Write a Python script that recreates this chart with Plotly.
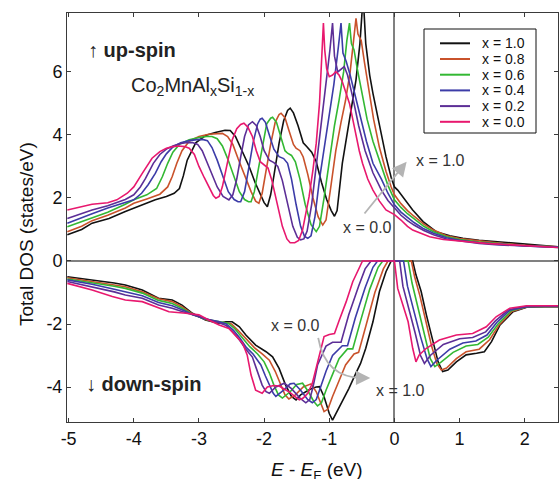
import plotly.graph_objects as go

# ---------------- data ----------------
series_labels = ["x = 1.0", "x = 0.8", "x = 0.6", "x = 0.4", "x = 0.2", "x = 0.0"]
series_colors = ["#111111", "#c9522b", "#33b833", "#3c3ca8", "#5c2e96", "#e8186e"]

# ---- up-spin ----
up_E_10 = [-5.02,-4.8,-4.64,-4.38,-4.13,-3.92,-3.67,-3.5,-3.38,-3.3,-3.24,-3.18,-3.05,-2.9,-2.75,-2.6,-2.52,-2.44,-2.33,-2.23,-2.14,-2.08,-2.0,-1.95,-1.9,-1.85,-1.77,-1.7,-1.64,-1.6,-1.55,-1.48,-1.4,-1.34,-1.27,-1.2,-1.12,-1.04,-0.97,-0.92,-0.88,-0.8,-0.72,-0.65,-0.59,-0.53,-0.48,-0.44,-0.38,-0.33,-0.23,-0.13,-0.05,0.0,0.05,0.1,0.18,0.28,0.44,0.64,0.85,1.05,1.3,1.56,1.8,2.08,2.3,2.51]
up_D_10 = [0.83,1.0,1.2,1.35,1.57,1.75,1.94,2.05,2.15,2.3,2.7,3.2,3.75,3.98,4.08,4.15,4.14,3.95,3.45,3.0,2.5,2.2,1.85,1.72,2.1,2.7,3.74,4.45,4.78,4.85,4.7,4.3,3.75,3.62,3.45,3.15,2.5,1.95,1.6,1.42,1.6,3.1,4.1,4.95,5.75,6.9,8.4,6.9,5.9,5.32,4.26,3.31,2.65,2.35,2.25,2.12,1.9,1.62,1.25,0.93,0.8,0.72,0.66,0.61,0.57,0.53,0.49,0.45]

up_E_08 = [-5.02,-4.8,-4.64,-4.4,-4.13,-4.0,-3.8,-3.6,-3.48,-3.41,-3.34,-3.26,-3.15,-3.0,-2.85,-2.72,-2.64,-2.56,-2.48,-2.4,-2.3,-2.2,-2.13,-2.08,-2.03,-1.97,-1.9,-1.83,-1.77,-1.74,-1.68,-1.62,-1.55,-1.51,-1.45,-1.4,-1.33,-1.25,-1.17,-1.1,-1.05,-0.98,-0.9,-0.82,-0.75,-0.68,-0.63,-0.59,-0.56,-0.51,-0.46,-0.4,-0.32,-0.23,-0.13,-0.05,0.0,0.1,0.2,0.3,0.45,0.6,0.8,1.0,1.3,1.6,2.0,2.51]
up_D_08 = [0.93,1.1,1.28,1.45,1.68,1.83,1.97,2.12,2.35,2.68,3.1,3.5,3.8,3.95,4.02,4.05,4.05,3.95,3.7,3.25,2.7,2.2,1.9,1.83,2.15,2.9,3.7,4.4,4.65,4.69,4.55,4.15,3.7,3.58,3.5,3.3,2.75,2.0,1.4,1.14,1.3,2.3,3.5,4.4,5.1,6.0,7.0,7.7,7.2,7.0,6.3,5.5,4.5,3.6,2.85,2.35,2.1,1.82,1.6,1.42,1.17,0.98,0.8,0.71,0.63,0.57,0.5,0.45]

up_E_06 = [-5.02,-4.8,-4.64,-4.4,-4.13,-4.0,-3.8,-3.65,-3.56,-3.48,-3.4,-3.3,-3.15,-3.0,-2.88,-2.8,-2.72,-2.64,-2.56,-2.47,-2.38,-2.3,-2.24,-2.2,-2.15,-2.09,-2.02,-1.96,-1.9,-1.87,-1.81,-1.75,-1.68,-1.64,-1.58,-1.52,-1.45,-1.37,-1.28,-1.2,-1.15,-1.08,-1.0,-0.92,-0.85,-0.78,-0.73,-0.69,-0.66,-0.62,-0.57,-0.5,-0.42,-0.33,-0.2,-0.1,0.0,0.1,0.2,0.3,0.45,0.6,0.8,1.0,1.3,1.6,2.0,2.51]
up_D_06 = [1.09,1.25,1.38,1.55,1.8,1.94,2.1,2.3,2.68,3.1,3.45,3.7,3.85,3.92,3.95,3.95,3.88,3.65,3.25,2.7,2.2,1.95,1.88,1.88,2.2,2.9,3.75,4.35,4.53,4.56,4.4,4.0,3.5,3.42,3.35,3.15,2.6,1.8,1.15,0.93,1.1,2.0,3.2,4.3,5.1,6.0,7.0,7.55,6.9,6.7,6.1,5.3,4.5,3.8,3.0,2.4,1.94,1.7,1.5,1.33,1.1,0.93,0.77,0.68,0.6,0.55,0.49,0.44]

up_E_04 = [-5.02,-4.8,-4.64,-4.4,-4.13,-4.0,-3.88,-3.78,-3.67,-3.58,-3.5,-3.4,-3.28,-3.15,-3.03,-2.95,-2.87,-2.8,-2.72,-2.63,-2.55,-2.46,-2.4,-2.36,-2.3,-2.24,-2.17,-2.1,-2.06,-2.03,-1.98,-1.92,-1.85,-1.77,-1.7,-1.64,-1.58,-1.51,-1.44,-1.38,-1.33,-1.28,-1.22,-1.15,-1.08,-1.01,-0.93,-0.86,-0.82,-0.79,-0.74,-0.68,-0.6,-0.52,-0.43,-0.33,-0.2,-0.1,0.0,0.1,0.2,0.3,0.45,0.6,0.8,1.0,1.3,1.6,2.0,2.51]
up_D_04 = [1.2,1.38,1.5,1.68,1.86,1.94,2.15,2.42,2.78,3.15,3.4,3.62,3.75,3.82,3.85,3.86,3.82,3.6,3.2,2.65,2.2,1.95,1.88,1.88,2.2,2.9,3.75,4.35,4.5,4.53,4.4,4.0,3.55,3.31,3.25,3.1,2.6,1.8,1.1,0.78,0.72,0.8,1.4,2.6,3.6,4.5,5.6,6.8,7.55,6.6,6.33,5.9,5.2,4.5,3.8,3.1,2.6,2.15,1.78,1.55,1.38,1.22,1.02,0.88,0.74,0.66,0.58,0.53,0.48,0.44]

up_E_02 = [-5.02,-4.8,-4.64,-4.4,-4.13,-4.0,-3.9,-3.82,-3.77,-3.7,-3.6,-3.5,-3.4,-3.3,-3.2,-3.1,-3.02,-2.95,-2.87,-2.8,-2.72,-2.63,-2.54,-2.48,-2.42,-2.36,-2.3,-2.24,-2.18,-2.12,-2.06,-2.0,-1.92,-1.85,-1.79,-1.72,-1.64,-1.56,-1.49,-1.44,-1.39,-1.34,-1.27,-1.2,-1.13,-1.06,-0.99,-0.95,-0.92,-0.87,-0.82,-0.77,-0.72,-0.64,-0.55,-0.45,-0.33,-0.2,-0.1,0.0,0.1,0.2,0.3,0.45,0.6,0.8,1.0,1.3,1.6,2.0,2.51]
up_D_02 = [1.35,1.52,1.62,1.75,1.95,2.1,2.35,2.62,2.83,3.1,3.38,3.55,3.65,3.72,3.75,3.76,3.7,3.5,3.1,2.75,2.35,2.05,1.94,2.1,2.6,3.3,3.95,4.32,4.42,4.3,3.95,3.5,3.2,3.12,3.0,2.55,1.8,1.1,0.75,0.67,0.7,0.95,1.8,3.0,4.2,5.4,6.7,7.55,6.5,6.0,6.1,6.17,5.9,5.2,4.3,3.5,2.8,2.25,1.92,1.67,1.45,1.28,1.14,0.97,0.83,0.7,0.64,0.56,0.51,0.47,0.43]

up_E_00 = [-5.02,-4.8,-4.64,-4.4,-4.26,-4.1,-4.0,-3.87,-3.72,-3.6,-3.5,-3.4,-3.31,-3.22,-3.15,-3.07,-3.0,-2.92,-2.85,-2.78,-2.74,-2.69,-2.64,-2.57,-2.49,-2.42,-2.36,-2.31,-2.25,-2.18,-2.12,-2.06,-2.0,-1.94,-1.88,-1.8,-1.72,-1.65,-1.6,-1.53,-1.47,-1.41,-1.36,-1.31,-1.25,-1.2,-1.15,-1.11,-1.09,-1.07,-1.04,-1.0,-0.95,-0.9,-0.85,-0.8,-0.74,-0.69,-0.64,-0.59,-0.54,-0.49,-0.41,-0.33,-0.23,-0.13,-0.05,0.0,0.1,0.2,0.28,0.4,0.54,0.75,1.05,1.4,1.82,2.2,2.51]
up_D_00 = [1.62,1.72,1.8,1.85,1.94,2.15,2.35,2.78,3.26,3.47,3.58,3.63,3.65,3.63,3.58,3.38,3.0,2.65,2.36,2.08,1.99,2.05,2.36,3.0,3.84,4.2,4.33,4.37,4.25,3.95,3.5,3.15,3.05,2.95,2.55,1.8,1.1,0.7,0.58,0.58,0.65,0.98,1.5,2.04,2.9,3.74,5.0,6.5,7.55,6.7,6.1,5.85,5.9,6.01,5.9,5.69,5.35,5.0,4.5,3.95,3.5,3.1,2.6,2.25,1.9,1.62,1.52,1.47,1.3,1.1,0.98,0.88,0.77,0.68,0.62,0.56,0.51,0.47,0.43]

# ---- down-spin ----
dn_E_10 = [-5.02,-4.64,-4.3,-4.13,-3.87,-3.62,-3.5,-3.41,-3.26,-3.1,-2.9,-2.69,-2.59,-2.49,-2.38,-2.28,-2.13,-1.97,-1.87,-1.77,-1.67,-1.58,-1.51,-1.44,-1.36,-1.27,-1.2,-1.15,-1.08,-1.0,-0.95,-0.87,-0.8,-0.7,-0.6,-0.52,-0.44,-0.33,-0.23,-0.13,-0.05,0.1,0.28,0.33,0.41,0.49,0.59,0.67,0.74,0.82,0.95,1.1,1.26,1.38,1.49,1.62,1.82,2.03,2.3,2.51]
dn_D_10 = [-0.5,-0.6,-0.7,-0.76,-0.92,-1.18,-1.22,-1.24,-1.4,-1.66,-1.87,-1.98,-1.93,-1.93,-2.09,-2.35,-2.67,-2.88,-3.04,-3.41,-3.94,-4.3,-4.41,-4.25,-4.15,-4.05,-4.0,-3.99,-4.31,-4.84,-5.05,-4.73,-4.47,-4.05,-3.6,-3.25,-2.77,-1.93,-0.97,-0.34,0.0,0.0,0.0,-0.44,-0.97,-1.71,-2.56,-3.2,-3.51,-3.46,-3.2,-2.98,-2.93,-2.88,-2.56,-2.03,-1.61,-1.47,-1.45,-1.45]

dn_E_08 = [-5.02,-4.64,-4.3,-4.13,-3.87,-3.62,-3.41,-3.26,-3.1,-2.9,-2.7,-2.6,-2.5,-2.4,-2.3,-2.15,-2.03,-1.92,-1.83,-1.74,-1.68,-1.62,-1.52,-1.4,-1.28,-1.2,-1.13,-1.08,-1.02,-0.95,-0.85,-0.75,-0.62,-0.55,-0.43,-0.3,-0.17,-0.1,0.1,0.26,0.31,0.39,0.47,0.57,0.65,0.72,0.8,0.95,1.1,1.3,1.46,1.61,1.8,2.03,2.3,2.51]
dn_D_08 = [-0.53,-0.64,-0.76,-0.82,-0.98,-1.2,-1.29,-1.45,-1.68,-1.86,-1.96,-1.95,-2.0,-2.2,-2.42,-2.75,-2.95,-3.15,-3.5,-3.94,-4.25,-4.38,-4.25,-4.0,-3.9,-4.15,-4.55,-4.78,-4.7,-4.3,-3.8,-3.3,-2.95,-2.9,-2.0,-1.0,-0.25,0.0,0.0,0.0,-0.5,-1.1,-1.8,-2.7,-3.25,-3.46,-3.4,-3.1,-2.88,-2.8,-2.5,-2.02,-1.6,-1.46,-1.45,-1.45]

dn_E_06 = [-5.02,-4.64,-4.3,-4.13,-3.87,-3.62,-3.41,-3.26,-3.1,-2.9,-2.7,-2.55,-2.45,-2.35,-2.22,-2.1,-2.0,-1.92,-1.85,-1.78,-1.72,-1.6,-1.5,-1.41,-1.32,-1.24,-1.18,-1.12,-1.05,-0.95,-0.85,-0.72,-0.64,-0.52,-0.38,-0.25,-0.18,0.1,0.21,0.27,0.36,0.46,0.55,0.62,0.72,0.9,1.1,1.28,1.44,1.59,1.79,2.03,2.3,2.51]
dn_D_06 = [-0.57,-0.68,-0.8,-0.87,-1.02,-1.25,-1.35,-1.5,-1.7,-1.85,-1.93,-1.98,-2.15,-2.4,-2.72,-2.95,-3.2,-3.55,-3.94,-4.25,-4.35,-4.15,-3.92,-3.88,-4.15,-4.45,-4.6,-4.5,-4.1,-3.6,-3.1,-2.79,-2.79,-1.9,-0.9,-0.2,0.0,0.0,0.0,-0.7,-1.5,-2.4,-3.1,-3.35,-3.2,-2.9,-2.7,-2.65,-2.42,-2.0,-1.58,-1.45,-1.44,-1.44]

dn_E_04 = [-5.02,-4.64,-4.3,-4.13,-3.87,-3.62,-3.41,-3.26,-3.1,-2.9,-2.7,-2.58,-2.47,-2.37,-2.27,-2.17,-2.05,-1.98,-1.92,-1.86,-1.82,-1.7,-1.6,-1.54,-1.44,-1.33,-1.26,-1.2,-1.15,-1.05,-0.95,-0.8,-0.72,-0.6,-0.45,-0.33,-0.26,0.0,0.14,0.2,0.3,0.4,0.5,0.56,0.65,0.85,1.05,1.25,1.42,1.57,1.77,2.03,2.3,2.51]
dn_D_04 = [-0.6,-0.74,-0.9,-0.98,-1.1,-1.32,-1.42,-1.55,-1.7,-1.84,-1.92,-2.0,-2.2,-2.45,-2.75,-2.95,-3.3,-3.65,-3.94,-4.2,-4.3,-4.1,-3.9,-3.88,-4.1,-4.4,-4.5,-4.4,-4.1,-3.5,-3.0,-2.69,-2.69,-1.8,-0.85,-0.2,0.0,0.0,0.0,-0.8,-1.6,-2.4,-3.1,-3.35,-3.15,-2.8,-2.6,-2.54,-2.35,-1.95,-1.56,-1.45,-1.44,-1.44]

dn_E_02 = [-5.02,-4.64,-4.3,-4.13,-3.87,-3.62,-3.41,-3.26,-3.1,-2.9,-2.7,-2.58,-2.48,-2.38,-2.28,-2.18,-2.1,-2.03,-1.97,-1.92,-1.82,-1.69,-1.58,-1.45,-1.36,-1.3,-1.25,-1.18,-1.05,-0.95,-0.82,-0.7,-0.55,-0.45,-0.36,0.0,0.08,0.13,0.22,0.32,0.4,0.46,0.55,0.75,1.0,1.2,1.4,1.55,1.75,2.03,2.3,2.51]
dn_D_02 = [-0.65,-0.82,-0.98,-1.08,-1.18,-1.4,-1.5,-1.6,-1.7,-1.83,-1.95,-2.05,-2.25,-2.5,-2.8,-3.05,-3.5,-3.94,-4.15,-4.2,-4.0,-3.88,-4.05,-4.35,-4.5,-4.4,-4.0,-3.3,-2.7,-2.58,-2.58,-1.7,-0.8,-0.25,0.0,0.0,0.0,-0.8,-1.5,-2.3,-3.0,-3.25,-3.0,-2.65,-2.47,-2.43,-2.25,-1.9,-1.55,-1.44,-1.43,-1.43]

dn_E_00 = [-5.02,-4.64,-4.33,-4.13,-3.87,-3.62,-3.46,-3.2,-3.0,-2.85,-2.69,-2.54,-2.44,-2.33,-2.26,-2.2,-2.13,-2.03,-1.95,-1.85,-1.77,-1.7,-1.62,-1.53,-1.46,-1.4,-1.33,-1.26,-1.2,-1.15,-1.08,-1.0,-0.92,-0.85,-0.74,-0.64,-0.54,-0.49,-0.3,-0.1,0.0,0.05,0.13,0.21,0.28,0.33,0.38,0.49,0.69,0.95,1.2,1.41,1.56,1.77,2.03,2.3,2.51]
dn_D_00 = [-0.71,-0.92,-1.13,-1.24,-1.29,-1.5,-1.61,-1.66,-1.71,-1.87,-2.03,-2.14,-2.35,-2.61,-2.98,-3.62,-4.1,-4.2,-4.0,-3.95,-3.97,-4.05,-4.15,-4.3,-4.41,-4.35,-4.2,-3.88,-3.4,-3.04,-2.4,-2.33,-2.3,-1.9,-1.29,-0.66,-0.18,0.0,0.0,0.0,0.0,-0.87,-1.4,-1.93,-2.77,-3.2,-2.98,-2.77,-2.51,-2.35,-2.3,-2.09,-1.77,-1.5,-1.42,-1.42,-1.42]

x_tick_vals = [-5, -4, -3, -2, -1, 0, 1, 2]
x_tick_text = ["-5", "-4", "-3", "-2", "-1", "0", "1", "2"]
y_tick_vals = [-4, -2, 0, 2, 4, 6]
y_tick_text = ["-4", "-2", "0", "2", "4", "6"]

up_series = [(up_E_10, up_D_10), (up_E_08, up_D_08), (up_E_06, up_D_06),
             (up_E_04, up_D_04), (up_E_02, up_D_02), (up_E_00, up_D_00)]
dn_series = [(dn_E_10, dn_D_10), (dn_E_08, dn_D_08), (dn_E_06, dn_D_06),
             (dn_E_04, dn_D_04), (dn_E_02, dn_D_02), (dn_E_00, dn_D_00)]

# ---------------- figure ----------------
FONT = "Liberation Sans, Arial, Helvetica, sans-serif"
W, H = 559, 479
PL, PR, PT, PB = 67, 558, 13, 422


def pxx(x):
    return (x - PL) / (PR - PL)


def pxy(y):
    return (PB - y) / (PB - PT)


fig = go.Figure()
for i in range(6):
    for (E, D) in (up_series[i], dn_series[i]):
        fig.add_trace(go.Scatter(x=E, y=D, mode="lines", name=series_labels[i],
                                 line=dict(color=series_colors[i], width=1.6),
                                 showlegend=False, hoverinfo="skip"))

axis_common = dict(showline=True, linecolor="#3a3a3a", linewidth=1, mirror="ticks",
                   ticks="inside", ticklen=4, tickwidth=1, tickcolor="#3a3a3a",
                   showgrid=False, tickfont=dict(family=FONT, size=18, color="#111"))
fig.update_xaxes(range=[-5.025, 2.51], tickvals=x_tick_vals, ticktext=x_tick_text,
                 zeroline=True, zerolinecolor="#808080", zerolinewidth=1.5, **axis_common)
fig.update_yaxes(range=[-5.11, 7.87], tickvals=y_tick_vals, ticktext=y_tick_text,
                 zeroline=True, zerolinecolor="#808080", zerolinewidth=1.5, **axis_common)

shapes = []
annotations = []


def txt(text, x, y, size, color="#222", xanchor="center", yanchor="middle", **kw):
    d = dict(text=text, x=pxx(x), y=pxy(y), xref="paper", yref="paper",
             xanchor=xanchor, yanchor=yanchor, showarrow=False,
             font=dict(family=FONT, size=size, color=color))
    d.update(kw)
    return d


# legend box (drawn by hand so that its entry spacing matches the reference)
shapes.append(dict(type="rect", xref="paper", yref="paper",
                   x0=pxx(424), x1=pxx(536), y0=pxy(133), y1=pxy(29),
                   line=dict(color="#111", width=1), fillcolor="white", layer="above"))
for i, lab in enumerate(series_labels):
    yy = 43.3 + i * 15.7
    shapes.append(dict(type="line", xref="paper", yref="paper",
                       x0=pxx(440), x1=pxx(470), y0=pxy(yy), y1=pxy(yy),
                       line=dict(color=series_colors[i], width=2), layer="above"))
    annotations.append(txt(lab, 480, yy, 14, color="#111", xanchor="left"))

# panel labels
annotations += [
    txt("↑ <b>up-spin</b>", 86, 50, 20, xanchor="left"),
    txt("Co<sub>2</sub>MnAl<sub>x</sub>Si<sub>1-x</sub>", 129, 87, 20, xanchor="left"),
    txt("↓ <b>down-spin</b>", 84, 384, 20, xanchor="left"),
]

# x = ... markers
annotations += [
    txt("x = 1.0", 440, 160, 16, color="#333"),
    txt("x = 0.0", 367, 228, 16, color="#333"),
    txt("x = 0.0", 295, 325, 16, color="#333"),
    txt("x = 1.0", 400, 390, 16, color="#333"),
]

# arrows
annotations += [
    dict(text="", x=0.187, y=3.15, ax=-0.478, ay=1.46, xref="x", yref="y",
         axref="x", ayref="y", showarrow=True, arrowhead=2, arrowsize=1.6,
         arrowwidth=1.8, arrowcolor="#b4b4b4"),
    dict(text="", x=-0.37, y=-3.71, ax=-0.52, ay=-3.71, xref="x", yref="y",
         axref="x", ayref="y", showarrow=True, arrowhead=2, arrowsize=1.6,
         arrowwidth=1.8, arrowcolor="#b4b4b4"),
]
shapes.append(dict(type="path", xref="x", yref="y",
                   path="M -1.17,-2.44 Q -1.06,-3.75 -0.45,-3.71",
                   line=dict(color="#b4b4b4", width=1.8)))

# axis titles
annotations += [
    txt("<i>E</i> - <i>E</i><sub>F</sub> (eV)", 317, 471, 19, color="#111"),
    txt("Total DOS (states/eV)", 26, 234, 19, color="#111", textangle=-90),
]

fig.update_layout(width=W, height=H, margin=dict(l=PL, r=W - PR, t=PT, b=H - PB),
                  plot_bgcolor="white", paper_bgcolor="white",
                  shapes=shapes, annotations=annotations, showlegend=False,
                  font=dict(family=FONT))

fig.write_html("out.html", config={"displayModeBar": False},
               post_script="document.body.style.margin='0';document.body.style.overflow='hidden';")
